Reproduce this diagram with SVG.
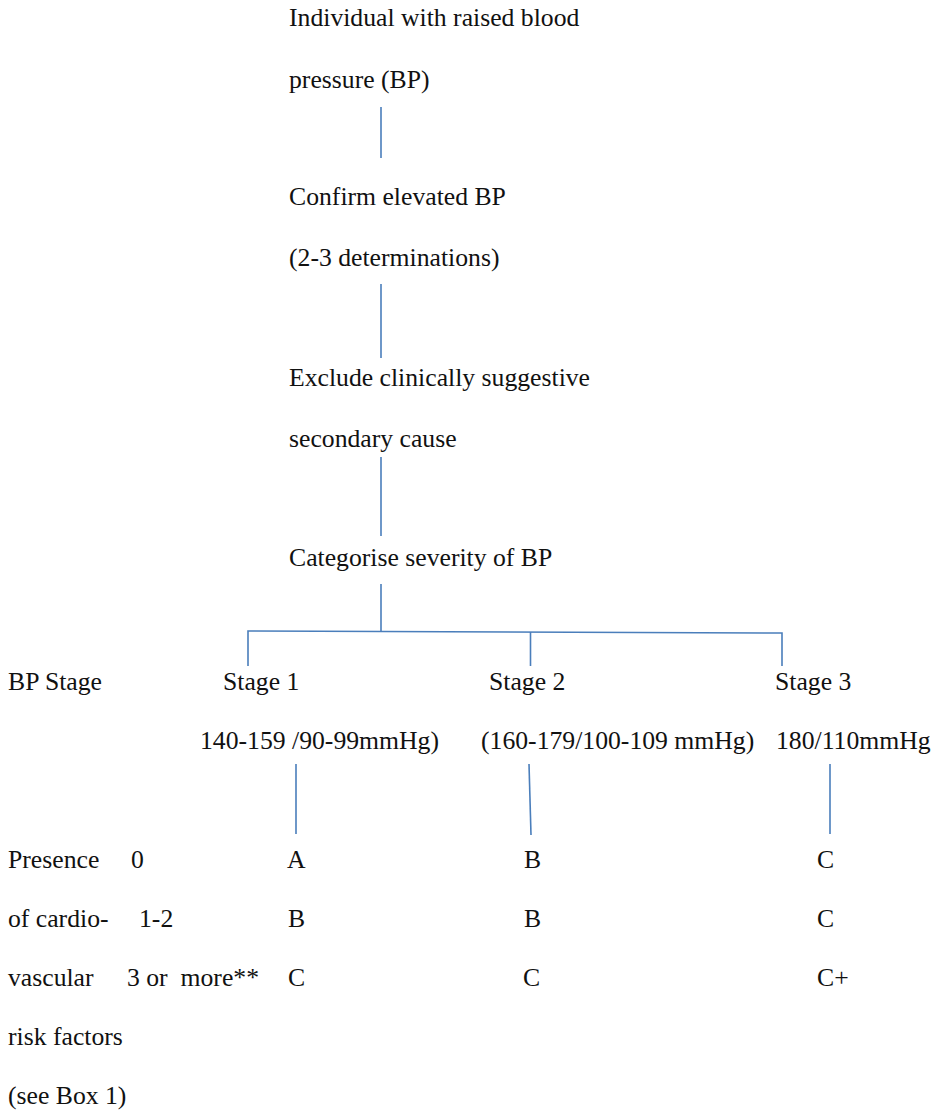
<svg xmlns="http://www.w3.org/2000/svg" width="938" height="1114" viewBox="0 0 938 1114">
<style>
.c{stroke:#4a7ebb;stroke-width:1.6;fill:none}
.t text{font-family:"Liberation Serif",serif;font-size:25.7px;fill:#111}
</style>
<rect width="938" height="1114" fill="#ffffff"/>
<g id="connectors">
<line class="c" x1="381" y1="107" x2="381" y2="158"/>
<line class="c" x1="381" y1="284" x2="381" y2="358"/>
<line class="c" x1="381" y1="457" x2="381" y2="536"/>
<line class="c" x1="381" y1="584" x2="381" y2="632"/>
<polyline class="c" points="248,666 248,631 782,633 782,666"/>
<line class="c" x1="530.5" y1="632" x2="530.5" y2="666"/>
<line class="c" x1="296" y1="764" x2="296" y2="834"/>
<line class="c" x1="529" y1="764" x2="531" y2="835"/>
<line class="c" x1="830" y1="764" x2="830" y2="834"/>
</g>
<g class="t">
<g id="node-individual"><text x="289" y="26">Individual with raised blood</text><text x="289" y="88">pressure (BP)</text></g>
<g id="node-confirm"><text x="289" y="205">Confirm elevated BP</text><text x="289" y="266">(2-3 determinations)</text></g>
<g id="node-exclude"><text x="289" y="386">Exclude clinically suggestive</text><text x="289" y="447">secondary cause</text></g>
<g id="node-categorise"><text x="289" y="566">Categorise severity of BP</text></g>
<g id="label-bp-stage"><text x="8" y="690">BP Stage</text></g>
<g id="node-stage1"><text x="223" y="690">Stage 1</text><text x="200" y="749">140-159 /90-99mmHg)</text></g>
<g id="node-stage2"><text x="489" y="690">Stage 2</text><text x="481" y="749">(160-179/100-109 mmHg)</text></g>
<g id="node-stage3"><text x="775" y="690">Stage 3</text><text x="776" y="749">180/110mmHg</text></g>
<g id="label-risk-factors">
<text x="8" y="868">Presence</text>
<text x="8" y="927">of cardio-</text>
<text x="8" y="986">vascular</text>
<text x="8" y="1045">risk factors</text>
<text x="8" y="1104">(see Box 1)</text>
</g>
<g id="label-counts">
<text x="131" y="868">0</text>
<text x="139" y="927">1-2</text>
<text x="127" y="986" xml:space="preserve">3 or  more**</text>
</g>
<g id="grid-stage1"><text x="287" y="868">A</text><text x="288" y="927">B</text><text x="288" y="986">C</text></g>
<g id="grid-stage2"><text x="524" y="868">B</text><text x="524" y="927">B</text><text x="523" y="986">C</text></g>
<g id="grid-stage3"><text x="817" y="868">C</text><text x="817" y="927">C</text><text x="817" y="986">C+</text></g>
</g>
</svg>
